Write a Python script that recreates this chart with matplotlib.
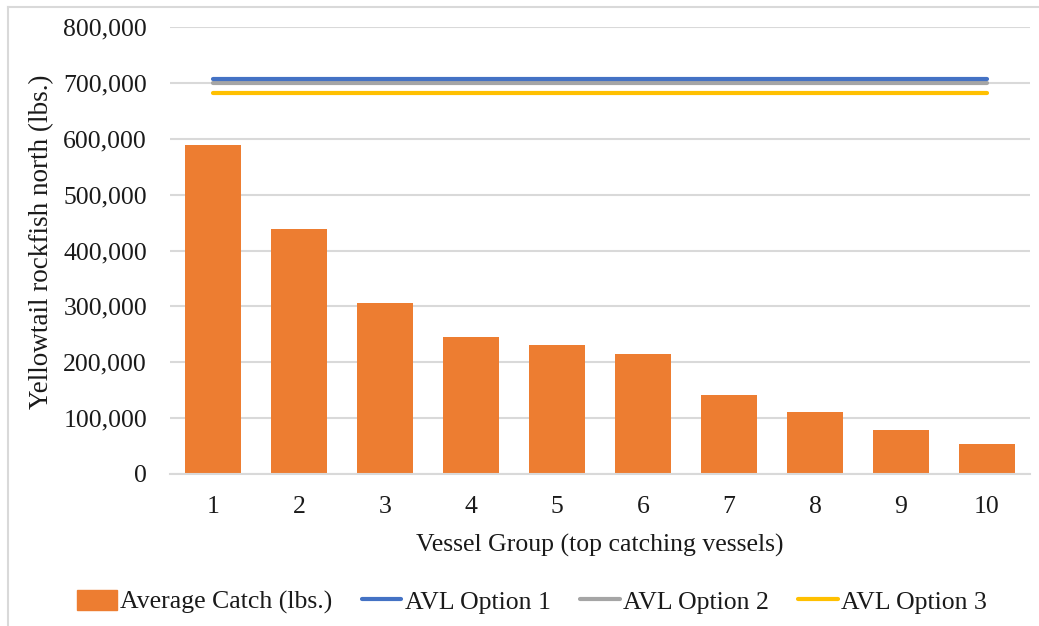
import matplotlib
matplotlib.use("Agg")
import matplotlib.pyplot as plt
from matplotlib.ticker import FuncFormatter
from matplotlib.lines import Line2D

plt.rcParams['font.family'] = ['Liberation Serif', 'DejaVu Serif']

categories = ['1', '2', '3', '4', '5', '6', '7', '8', '9', '10']
avg_catch = [589000, 438500, 306000, 246000, 231000, 215000, 141000, 111000, 78000, 53000]
avl_option1 = 707000
avl_option2 = 700000
avl_option3 = 682000
y_ticks = [0, 100000, 200000, 300000, 400000, 500000, 600000, 700000, 800000]

W, H = 1039, 626
FS = 18.5
fig = plt.figure(figsize=(W / 100, H / 100), dpi=100)
ax = fig.add_axes([170 / W, (H - 474) / H, 860 / W, (474 - 27) / H])

x = list(range(len(categories)))
grid_c = '#D9D9D9'
ax.bar(x, avg_catch, width=0.66, color='#ED7D31', zorder=3, label='Average Catch (lbs.)')
n = len(categories)
ax.plot(x, [avl_option1] * n, color='#4472C4', lw=3.0, solid_capstyle='round', zorder=4, label='AVL Option 1')
ax.plot(x, [avl_option2] * n, color='#A5A5A5', lw=3.0, solid_capstyle='round', zorder=3.5, label='AVL Option 2')
ax.plot(x, [avl_option3] * n, color='#FFC000', lw=3.0, solid_capstyle='round', zorder=4, label='AVL Option 3')

ax.set_xlim(-0.5, n - 0.5)
ax.set_ylim(0, 800000)
ax.set_yticks(y_ticks)
ax.yaxis.set_major_formatter(FuncFormatter(lambda v, p: f'{int(v):,}'))
ax.set_xticks(x)
ax.set_xticklabels(categories)
ax.grid(axis='y', color=grid_c, lw=1.5, zorder=0)
ax.set_axisbelow(True)
for s in ['top', 'right', 'left']:
    ax.spines[s].set_visible(False)
ax.spines['bottom'].set_color(grid_c)
ax.spines['bottom'].set_linewidth(1.5)
ax.spines['bottom'].set_zorder(5)
ax.tick_params(axis='both', length=0, labelsize=FS, colors='#1a1a1a')
ax.tick_params(axis='y', pad=16.5)
ax.tick_params(axis='x', pad=16)

ax.set_xlabel('Vessel Group (top catching vessels)', fontsize=FS, labelpad=11, color='#1a1a1a')
fig.text(42 / W, 1 - 242 / H, 'Yellowtail rockfish north (lbs.)', rotation=90,
         fontsize=19.5, ha='center', va='center', color='#1a1a1a')

handles = [
    plt.Rectangle((0, 0), 1, 1, color='#ED7D31'),
    Line2D([], [], color='#4472C4', lw=3.0, solid_capstyle='round'),
    Line2D([], [], color='#A5A5A5', lw=3.0, solid_capstyle='round'),
    Line2D([], [], color='#FFC000', lw=3.0, solid_capstyle='round'),
]
labels = ['Average Catch (lbs.)', 'AVL Option 1', 'AVL Option 2', 'AVL Option 3']
leg = fig.legend(handles, labels, loc='center', bbox_to_anchor=(532 / W, 1 - 602 / H), ncol=4,
                 frameon=False, fontsize=FS, handlelength=1.55, handleheight=0.8, handletextpad=0.12,
                 columnspacing=1.15)
for t in leg.get_texts():
    t.set_color('#1a1a1a')

# chart border
fig.add_artist(Line2D([8 / W, 8 / W], [0, 1 - 7 / H], color=grid_c, lw=1.5, transform=fig.transFigure))
fig.add_artist(Line2D([8 / W, 1], [1 - 7 / H, 1 - 7 / H], color=grid_c, lw=1.5, transform=fig.transFigure))

fig.savefig('out.png', dpi=100)
